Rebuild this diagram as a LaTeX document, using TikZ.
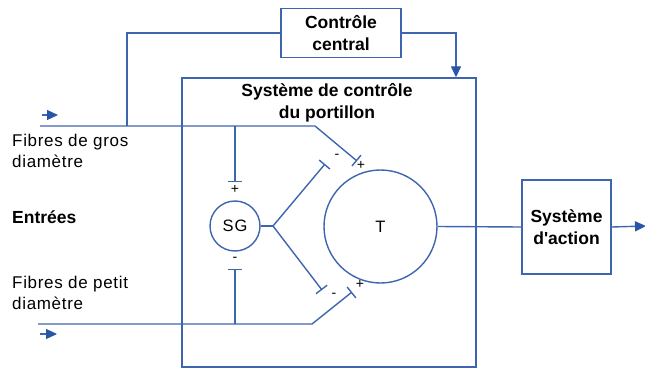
\documentclass[tikz,border=0pt]{standalone}
\usepackage{fontspec}
\setmainfont{Liberation Sans}
\usetikzlibrary{arrows.meta}
\definecolor{ln}{RGB}{62,101,175}
\definecolor{ah}{RGB}{40,86,166}
\newcommand{\regfont}{\fontsize{17}{21.5}\selectfont\addfontfeature{LetterSpace=4}}
\newcommand{\boldfont}{\fontsize{17.5}{21.5}\selectfont\bfseries}
\begin{document}
\begin{tikzpicture}[x=1pt,y=-1pt,
  wire/.style={draw=ln,line width=1.4pt},
  frame/.style={draw=ln,line width=1.4pt,inner sep=0pt},
  boxn/.style={frame,align=center,font=\boldfont},
  lbl/.style={inner sep=0pt,align=left,font=\regfont},
  sgn/.style={inner sep=0pt,font=\fontsize{14}{14}\selectfont},
  tipA/.style={-{Triangle[length=11pt,width=10pt,color=ah]}},
  inh/.style={-{Bar[width=14pt]}},
]
\useasboundingbox (0,0) rectangle (645,369);
% boxes
\node[boxn,minimum width=120pt,minimum height=49pt] (cc) at (341,33) {Contrôle\\central};
\node[frame,minimum width=294pt,minimum height=289pt] (gate) at (329,222.5) {};
\node[boxn,minimum width=89pt,minimum height=94pt] (act) at (566.5,227) {Système\\d\textquotesingle action};
\node[inner sep=0pt,align=center,font=\boldfont] (gtitle) at (327,103) {Système de contrôle\\du portillon};
\node[frame,circle,minimum size=50pt,font=\fontsize{16.5}{16}\selectfont\addfontfeature{LetterSpace=6}] (sg) at (235,226) {SG};
\node[frame,circle,minimum size=113pt,font=\fontsize{16.5}{16}\selectfont] (t) at (380.5,226.5) {T};
% text labels
\node[lbl,anchor=west] (fg) at (12,151) {Fibres de gros\\diamètre};
\node[lbl,anchor=west,font=\boldfont] (ent) at (12,217) {Entrées};
\node[lbl,anchor=west] (fp) at (12,293) {Fibres de petit\\diamètre};
% coordinates
\coordinate (ccl) at (127,33);
\coordinate (cl) at (127,126);
\coordinate (ccr) at (456,33);
\coordinate (fa0) at (40,126);
\coordinate (fa1) at (315,126);
\coordinate (fa2) at (357,161);
\coordinate (fb0) at (38,324);
\coordinate (fb1) at (312,324);
\coordinate (fb2) at (352,292);
\coordinate (sgt) at (235,126);
\coordinate (sgtb) at (235,182);
\coordinate (sgbb) at (235,269);
\coordinate (sgb) at (235,324);
\coordinate (jn) at (273,226);
\coordinate (iu) at (325,164);
\coordinate (il) at (322,290);
\coordinate (out) at (646,226);
\coordinate (ma0) at (42,115);
\coordinate (ma1) at (58,115);
\coordinate (mb0) at (40,334);
\coordinate (mb1) at (57,334);
% connectors
\draw[wire] (cc.west) -- (ccl) -- (cl);
\draw[wire,tipA] (cc.east) -- (ccr) -- (ccr |- gate.north);
\draw[wire,inh] (fa0) -- (fa1) -- (fa2);
\draw[wire,inh] (fb0) -- (fb1) -- (fb2);
\draw[wire,inh] (sgt) -- (sgtb);
\draw[wire,inh] (sgb) -- (sgbb);
\draw[wire] (sg.east) -- (jn);
\draw[wire,inh] (jn) -- (iu);
\draw[wire,inh] (jn) -- (il);
\draw[wire] (t.east) -- (act.west);
\draw[wire,tipA] (act.east) -- (out);
\draw[wire,line width=1.2pt,tipA] (ma0) -- (ma1);
\draw[wire,line width=1.2pt,tipA] (mb0) -- (mb1);
% signs
\node[sgn] (s1) at (235,189) {+};
\node[sgn] (s2) at (235,259) {-};
\node[sgn] (s3) at (337,156) {-};
\node[sgn] (s4) at (361,165) {+};
\node[sgn] (s5) at (334,295) {-};
\node[sgn] (s6) at (360,284) {+};
\end{tikzpicture}
\end{document}
